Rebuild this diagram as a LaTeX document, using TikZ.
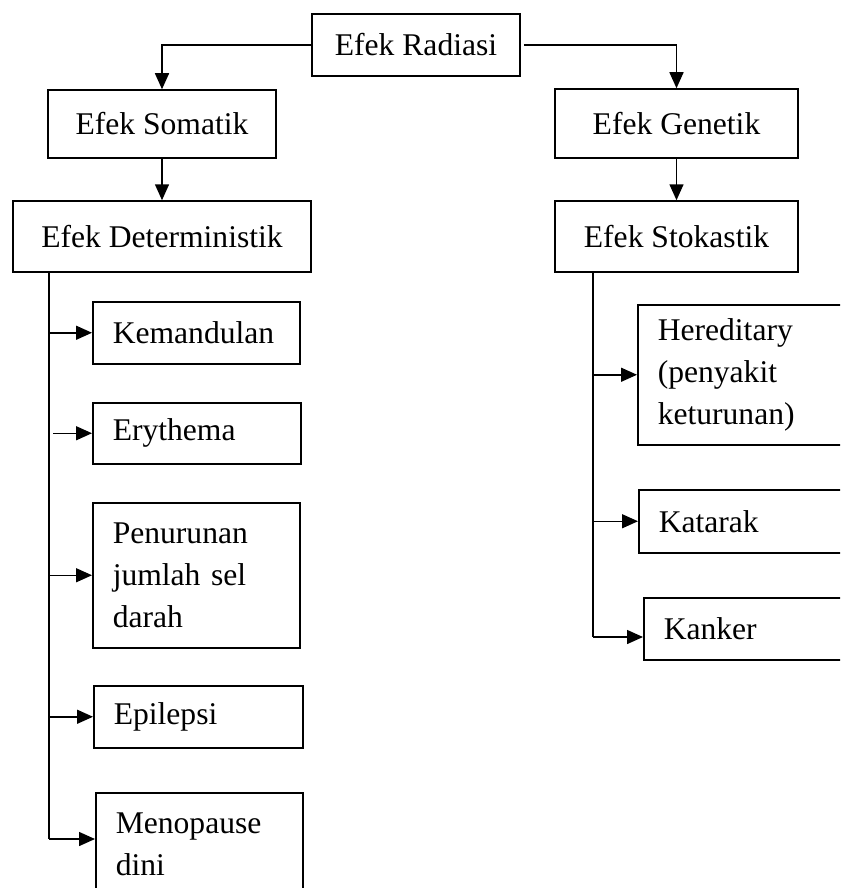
\documentclass[tikz,border=0pt]{standalone}
\usepackage{fontspec}
\setmainfont{Liberation Serif}
\usetikzlibrary{arrows.meta}
\colorlet{lineColor}{black}
\tikzset{
  effectBox/.style={shape=rectangle, draw=lineColor, line width=0.75pt, inner sep=0pt, align=center, font=\fontsize{15.8}{21}\selectfont},
  itemBox/.style={shape=rectangle, draw=lineColor, line width=0.75pt, anchor=north west, inner xsep=10pt, inner ysep=0pt, align=left, font=\fontsize{15.8}{21}\selectfont},
  flowArrow/.style={draw=lineColor, line width=0.75pt, -{Triangle[length=8pt, width=7pt]}},
  trunkLine/.style={draw=lineColor, line width=0.75pt}
}

\begin{document}
\begin{tikzpicture}[x=0.5pt, y=-0.5pt]
	\clip (0, 0) rectangle (840, 888);

	% --- Kotak utama ---
	\node[effectBox, minimum width=104pt, minimum height=31pt] (radiasi) at (416, 45) {Efek Radiasi};
	\node[effectBox, minimum width=114pt, minimum height=34pt] (somatik) at (162, 124) {Efek Somatik};
	\node[effectBox, minimum width=121.5pt, minimum height=34.5pt] (genetik) at (676.5, 123.5) {Efek Genetik};
	\node[effectBox, minimum width=149pt, minimum height=35.5pt] (determ) at (162, 236.5) {Efek Deterministik};
	\node[effectBox, minimum width=121.5pt, minimum height=35.5pt] (stokastik) at (676.5, 236.5) {Efek Stokastik};

	% --- Efek deterministik ---
	\node[itemBox, text width=83.5pt, minimum height=31pt] (kemandulan) at (92, 301) {Kemandulan};
	\node[itemBox, text width=84pt, minimum height=30.5pt] (erythema) at (92, 402) {Erythema};
	\node[itemBox, text width=83.5pt, minimum height=72.5pt] (penurunan) at (92, 502) {Penurunan\\ jumlah sel\\ darah};
	\node[itemBox, text width=84.5pt, minimum height=31pt] (epilepsi) at (93, 685) {Epilepsi};
	\node[itemBox, text width=83.5pt, minimum height=52pt] (menopause) at (95, 792) {Menopause\\ dini};

	% --- Efek stokastik ---
	\node[itemBox, text width=84pt, minimum height=70pt] (hereditary) at (637, 304) {Hereditary\\ (penyakit\\ keturunan)};
	\node[itemBox, text width=84pt, minimum height=31.5pt] (katarak) at (638, 489) {Katarak};
	\node[itemBox, text width=84pt, minimum height=31pt] (kanker) at (643, 597) {Kanker};

	% --- Panah ---
	\draw[flowArrow] (radiasi.west) -| (somatik.north);
	\draw[flowArrow, shorten <=1.5pt] (radiasi.east) -| (genetik.north);
	\draw[flowArrow] (somatik.south) -- (determ.north);
	\draw[flowArrow] (genetik.south) -- (stokastik.north);

	\coordinate (detEnd) at (49, 839);
	\coordinate (stoEnd) at (593, 637);
	\path[trunkLine] (determ.south -| detEnd) -- (detEnd);
	\path[trunkLine] (stokastik.south -| stoEnd) -- (stoEnd);

	\draw[flowArrow] (kemandulan.west -| detEnd) -- (kemandulan.west);
	\draw[flowArrow, shorten <=2pt] (erythema.west -| detEnd) -- (erythema.west);
	\draw[flowArrow] (penurunan.west -| detEnd) -- (penurunan.west);
	\draw[flowArrow] (epilepsi.west -| detEnd) -- (epilepsi.west);
	\draw[flowArrow] (detEnd) -- (detEnd -| menopause.west);

	\draw[flowArrow] (hereditary.west -| stoEnd) -- (hereditary.west);
	\draw[flowArrow] (katarak.west -| stoEnd) -- (katarak.west);
	\draw[flowArrow] (stoEnd) -- (stoEnd -| kanker.west);

\end{tikzpicture}
\end{document}
